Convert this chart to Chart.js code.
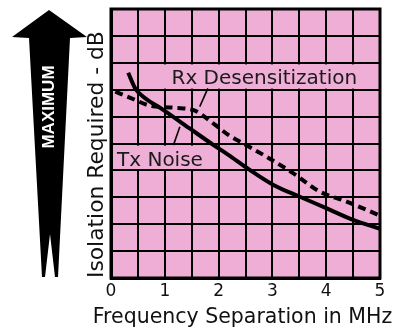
<!DOCTYPE html>
<html>
<head>
<meta charset="utf-8">
<script src="https://cdn.jsdelivr.net/npm/chart.js@4.4.1/dist/chart.umd.min.js"></script>
<style>
  html, body { margin: 0; padding: 0; background: #ffffff; }
  canvas { display: block; }
</style>
</head>
<body>
<canvas id="chart" width="396" height="330"></canvas>
<script>
// Frequency separation (MHz) tick labels
const xTickLabels = ['0', '1', '2', '3', '4', '5'];
const xAxisTitle = 'Frequency Separation in MHz';

// Transmitter noise curve: isolation (grid units) vs separation (MHz)
const txNoiseX = [0.32, 0.45, 0.60, 0.97, 1.47, 1.90, 2.18, 2.52, 3.02, 3.51, 4.01, 4.50, 5.00];
const txNoiseY = [7.63, 7.05, 6.74, 6.25, 5.55, 4.95, 4.58, 4.10, 3.46, 3.02, 2.59, 2.16, 1.83];

// Receiver desensitization curve
const rxDesX = [0.08, 0.38, 0.72, 1.19, 1.56, 1.93, 2.18, 2.46, 2.89, 3.39, 3.88, 4.38, 5.00];
const rxDesY = [6.93, 6.68, 6.41, 6.33, 6.22, 5.70, 5.32, 5.00, 4.51, 3.89, 3.21, 2.84, 2.32];

// Curve labels: text, anchor (data units), background box extent, leader line
const curveLabels = [
  { text: 'Rx Desensitization', x: 2.85, y: 7.48, box: [0.97, 7.04, 4.67, 7.94], leader: [1.80, 7.05, 1.65, 6.37] },
  { text: 'Tx Noise',           x: 0.91, y: 4.42, box: [0.04, 4.05, 1.84, 4.92], leader: [1.28, 5.62, 1.16, 4.94] }
];

const PINK = '#efaed6';
const FONT = '"DejaVu Sans", "Open Sans", sans-serif';

const pairs = (xs, ys) => xs.map((x, i) => ({ x: x, y: ys[i] }));

const decor = {
  id: 'decor',
  beforeDraw(chart) {
    const { ctx, chartArea: a } = chart;
    ctx.save();
    // plot background
    ctx.fillStyle = PINK;
    ctx.fillRect(a.left, a.top, a.right - a.left, a.bottom - a.top);

    // "MAXIMUM" arrow beside the value axis
    const top = a.top + 1, bot = a.bottom - 1;
    ctx.fillStyle = '#000';
    ctx.beginPath();
    ctx.moveTo(49, top);
    ctx.lineTo(87, top + 27);
    ctx.lineTo(70, top + 28);
    ctx.lineTo(58, bot);
    ctx.lineTo(55, bot);
    ctx.lineTo(50, bot - 43);
    ctx.lineTo(45, bot);
    ctx.lineTo(42, bot);
    ctx.lineTo(29, top + 28);
    ctx.lineTo(12, top + 27);
    ctx.closePath();
    ctx.fill();

    ctx.translate(49, 107);
    ctx.rotate(-Math.PI / 2);
    ctx.fillStyle = '#fff';
    ctx.font = 'bold 17px "Liberation Sans", Arial, sans-serif';
    ctx.textAlign = 'center';
    ctx.textBaseline = 'middle';
    ctx.fillText('MAXIMUM', 0, 0);
    ctx.restore();
  },
  beforeDatasetsDraw(chart) {
    const { ctx, chartArea: a, scales: { x, y } } = chart;
    ctx.save();
    // heavy frame round the grid
    ctx.strokeStyle = '#000';
    ctx.lineWidth = 3;
    ctx.strokeRect(a.left, a.top, a.right - a.left, a.bottom - a.top);

    ctx.font = '20px ' + FONT;
    ctx.textAlign = 'center';
    ctx.textBaseline = 'alphabetic';
    curveLabels.forEach(l => {
      const x0 = x.getPixelForValue(l.box[0]), y0 = y.getPixelForValue(l.box[3]);
      const x1 = x.getPixelForValue(l.box[2]), y1 = y.getPixelForValue(l.box[1]);
      ctx.fillStyle = PINK;
      ctx.fillRect(x0, y0, x1 - x0, y1 - y0);
      ctx.fillStyle = '#1a1a1a';
      ctx.fillText(l.text, x.getPixelForValue(l.x), y.getPixelForValue(l.y) + 20 * 0.3645);
      ctx.strokeStyle = '#000';
      ctx.lineWidth = 1.6;
      ctx.beginPath();
      ctx.moveTo(x.getPixelForValue(l.leader[0]), y.getPixelForValue(l.leader[1]));
      ctx.lineTo(x.getPixelForValue(l.leader[2]), y.getPixelForValue(l.leader[3]));
      ctx.stroke();
    });
    ctx.restore();
  },
  afterDraw(chart) {
    // x-axis title runs wider than the plot, so it is set here without a width cap
    const { ctx, chartArea: a } = chart;
    ctx.save();
    ctx.font = '20.5px ' + FONT;
    ctx.fillStyle = '#111';
    ctx.textAlign = 'center';
    ctx.textBaseline = 'alphabetic';
    ctx.fillText(xAxisTitle, (a.left + a.right) / 2 - 3, a.bottom + 44.7);
    ctx.restore();
  }
};

new Chart(document.getElementById('chart'), {
  type: 'scatter',
  data: {
    datasets: [
      {
        label: 'Tx Noise',
        data: pairs(txNoiseX, txNoiseY),
        showLine: true,
        borderColor: '#000',
        borderWidth: 4,
        pointRadius: 0,
        cubicInterpolationMode: 'monotone',
        fill: false
      },
      {
        label: 'Rx Desensitization',
        data: pairs(rxDesX, rxDesY),
        showLine: true,
        borderColor: '#000',
        borderWidth: 4,
        borderDash: [8, 5],
        pointRadius: 0,
        cubicInterpolationMode: 'monotone',
        fill: false
      }
    ]
  },
  options: {
    responsive: false,
    animation: false,
    events: [],
    layout: { padding: { left: 0, right: 16, top: 9, bottom: 0 } },
    plugins: { legend: { display: false }, tooltip: { enabled: false } },
    scales: {
      x: {
        type: 'linear',
        min: 0,
        max: 5,
        afterFit: s => { s.height = 52; },
        grid: { color: '#000', lineWidth: 2, drawTicks: false },
        border: { color: '#000', width: 3 },
        ticks: {
          stepSize: 0.5,
          autoSkip: false,
          maxRotation: 0,
          padding: 3.5,
          color: '#111',
          font: { family: FONT, size: 17 },
          callback: v => Number.isInteger(v) ? xTickLabels[v] : ''
        },
        title: { display: false }
      },
      y: {
        type: 'linear',
        min: 0,
        max: 10,
        afterFit: s => { s.width = 111; },
        grid: { color: '#000', lineWidth: 2, drawTicks: false },
        border: { color: '#000', width: 3 },
        ticks: { display: false, stepSize: 1 },
        title: {
          display: true,
          text: 'Isolation Required - dB',
          align: 'start',
          color: '#111',
          font: { family: FONT, size: 21.8 },
          padding: { top: 84.2, bottom: 0 }
        }
      }
    }
  },
  plugins: [decor]
});
</script>
</body>
</html>
